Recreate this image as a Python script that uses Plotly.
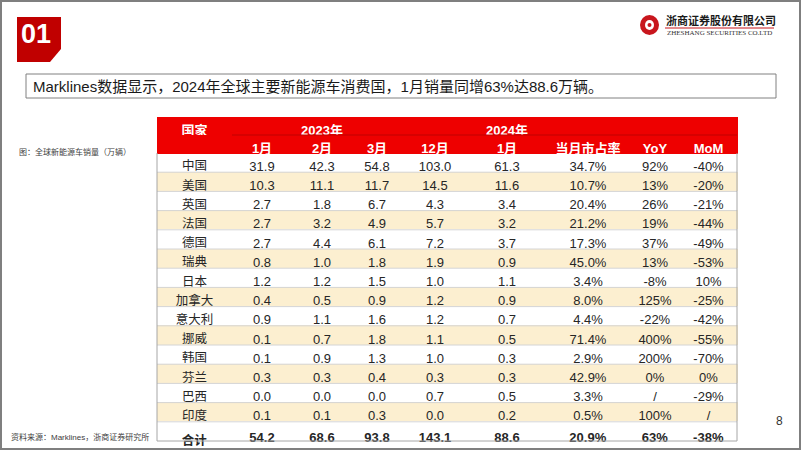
import plotly.graph_objects as go

# ---------------- data ----------------
countries = ["中国", "美国", "英国", "法国", "德国", "瑞典", "日本", "加拿大",
             "意大利", "挪威", "韩国", "芬兰", "巴西", "印度", "合计"]
jan23 = [31.9, 10.3, 2.7, 2.7, 2.7, 0.8, 1.2, 0.4, 0.9, 0.1, 0.1, 0.3, 0.0, 0.1, 54.2]
feb23 = [42.3, 11.1, 1.8, 3.2, 4.4, 1.0, 1.2, 0.5, 1.1, 0.7, 0.9, 0.3, 0.0, 0.1, 68.6]
mar23 = [54.8, 11.7, 6.7, 4.9, 6.1, 1.8, 1.5, 0.9, 1.6, 1.8, 1.3, 0.4, 0.0, 0.3, 93.8]
dec23 = [103.0, 14.5, 4.3, 5.7, 7.2, 1.9, 1.0, 1.2, 1.2, 1.1, 1.0, 0.3, 0.7, 0.0, 143.1]
jan24 = [61.3, 11.6, 3.4, 3.2, 3.7, 0.9, 1.1, 0.9, 0.7, 0.5, 0.3, 0.3, 0.5, 0.2, 88.6]
share = [34.7, 10.7, 20.4, 21.2, 17.3, 45.0, 3.4, 8.0, 4.4, 71.4, 2.9, 42.9, 3.3, 0.5, 20.9]
yoy = [92, 13, 26, 19, 37, 13, -8, 125, -22, 400, 200, 0, None, 100, 63]
mom = [-40, -20, -21, -44, -49, -53, 10, -25, -42, -55, -70, 0, -29, None, -38]

header_row1 = ["国家", "", "2023年", "", "", "2024年", "", "", ""]
header_row2 = ["", "1月", "2月", "3月", "12月", "1月", "当月市占率", "YoY", "MoM"]

title_text = "Marklines数据显示，2024年全球主要新能源车消费国，1月销量同增63%达88.6万辆。"
caption_text = "图：全球新能源车销量（万辆）"
source_text = "资料来源：Marklines，浙商证券研究所"

# ---------------- formatting ----------------
n = len(countries)
last = n - 1


def bold_last(vals):
    return [f"<b>{v}</b>" if i == last else v for i, v in enumerate(vals)]


def f1(vals):
    return bold_last([f"{v:.1f}" for v in vals])


def pct1(vals):
    return bold_last([f"{v:.1f}%" for v in vals])


def pct0(vals):
    return bold_last(["/" if v is None else f"{v:.0f}%" for v in vals])


columns = [
    bold_last(countries),
    f1(jan23), f1(feb23), f1(mar23), f1(dec23), f1(jan24),
    pct1(share), pct0(yoy), pct0(mom),
]

WHITE = "#FFFFFF"
BEIGE = "#FCEFD0"
RED = "#EE0000"
row_fill = [WHITE if i % 2 == 0 else BEIGE for i in range(n)]
ncol = len(columns)
fill_2d = [row_fill for _ in range(ncol)]
colw = [75, 60, 60, 50, 66, 78, 84, 50, 57]

W, H = 802, 451
tx0, tx1 = 157, 737
ty0 = 117          # table top (text in plotly cells sits a little low)
head_h = 18
row_h = 19.2

fig = go.Figure()
fig.add_trace(go.Table(
    domain=dict(x=[tx0 / W, tx1 / W], y=[0, 1 - ty0 / H]),
    columnwidth=colw,
    header=dict(
        values=[[a, b] for a, b in zip(header_row1, header_row2)],
        fill_color=RED,
        line=dict(color=RED, width=1),
        font=dict(family="Liberation Sans, Noto Sans CJK SC", size=13, color="white", weight="bold"),
        align="center",
        height=head_h,
    ),
    cells=dict(
        values=columns,
        fill_color=fill_2d,
        line=dict(color=fill_2d, width=1),
        font=dict(
            family=["Noto Sans CJK SC"] + ["Liberation Sans, Arial"] * (ncol - 1),
            size=[12.5] + [13] * (ncol - 1),
            color="#262626",
        ),
        align="center",
        height=row_h,
    ),
))

shapes = []


def px_line(x0, y0, x1, y1, color, width):
    return dict(type="line", xref="paper", yref="paper",
                x0=x0 / W, x1=x1 / W, y0=1 - y0 / H, y1=1 - y1 / H,
                line=dict(color=color, width=width), layer="above")


# header separator under the year row
shapes.append(px_line(tx0 + colw[0], ty0 + head_h, tx1, ty0 + head_h, "#C00000", 1))
# row separators and body border
body_top = ty0 + 2 * head_h
body_bot = body_top + n * row_h
for i in range(1, n):
    yy = body_top + i * row_h
    shapes.append(px_line(tx0, yy, tx1, yy, "#D4D4D4", 1))
shapes.append(px_line(tx0, body_bot, tx1, body_bot, "#A6A6A6", 1))
shapes.append(px_line(tx0, body_top, tx0, body_bot, "#A6A6A6", 1))
shapes.append(px_line(tx1, body_top, tx1, body_bot, "#A6A6A6", 1))

# slide frame
shapes.append(dict(type="rect", xref="paper", yref="paper",
                   x0=1 / W, x1=800 / W, y0=1 - 449 / H, y1=1 - 1 / H,
                   line=dict(color="#7F7F7F", width=2), layer="above"))
# "01" badge
shapes.append(dict(type="path", xref="paper", yref="paper",
                   path=f"M {17/W},{1-17/H} L {61/W},{1-17/H} L {61/W},{1-49/H} L {50/W},{1-62/H} L {17/W},{1-62/H} Z",
                   fillcolor="#C00000", line=dict(width=0)))
# title box
shapes.append(dict(type="rect", xref="paper", yref="paper",
                   x0=26 / W, x1=776 / W, y0=1 - 98 / H, y1=1 - 74 / H,
                   line=dict(color="#808080", width=1)))
# logo circle
shapes.append(dict(type="circle", xref="paper", yref="paper",
                   x0=640 / W, x1=659 / W, y0=1 - 35 / H, y1=1 - 15 / H,
                   fillcolor="#C8161D", line=dict(width=0)))
shapes.append(dict(type="circle", xref="paper", yref="paper",
                   x0=645 / W, x1=654 / W, y0=1 - 30 / H, y1=1 - 20 / H,
                   fillcolor="white", line=dict(width=0)))
shapes.append(dict(type="circle", xref="paper", yref="paper",
                   x0=647.5 / W, x1=651.5 / W, y0=1 - 27 / H, y1=1 - 23 / H,
                   fillcolor="#C8161D", line=dict(width=0)))
# logo underline
shapes.append(px_line(665, 28, 774, 28, "#C8161D", 1))


def ann(text, x, y, size, family, color, xanchor="left", yanchor="middle"):
    return dict(text=text, x=x / W, y=1 - y / H, xref="paper", yref="paper",
                xanchor=xanchor, yanchor=yanchor, showarrow=False,
                font=dict(family=family, size=size, color=color))


annotations = [
    ann("<b>01</b>", 36, 34, 27, "Liberation Sans, Arial", "white", xanchor="center"),
    ann(title_text, 31, 86.5, 15, "Liberation Sans, Noto Sans CJK SC", "#1A1A1A"),
    ann("<b>浙商证券股份有限公司</b>", 664, 20, 11, "Noto Sans CJK SC", "#1A1A1A"),
    ann("ZHESHANG SECURITIES CO.LTD", 665, 33, 7, "Liberation Serif", "#333333"),
    ann(caption_text, 17, 151, 8, "Noto Sans CJK SC", "#404040"),
    ann(source_text, 9, 437, 8, "Liberation Sans, Noto Sans CJK SC", "#404040"),
    ann("8", 779, 421, 12, "Liberation Sans, Arial", "#333333", xanchor="center"),
]

fig.update_layout(
    width=W, height=H,
    margin=dict(l=0, r=0, t=0, b=0),
    paper_bgcolor="white", plot_bgcolor="white",
    shapes=shapes, annotations=annotations,
)

fig.write_html("out.html", config={"displayModeBar": False},
               post_script="document.body.style.margin='0';")
